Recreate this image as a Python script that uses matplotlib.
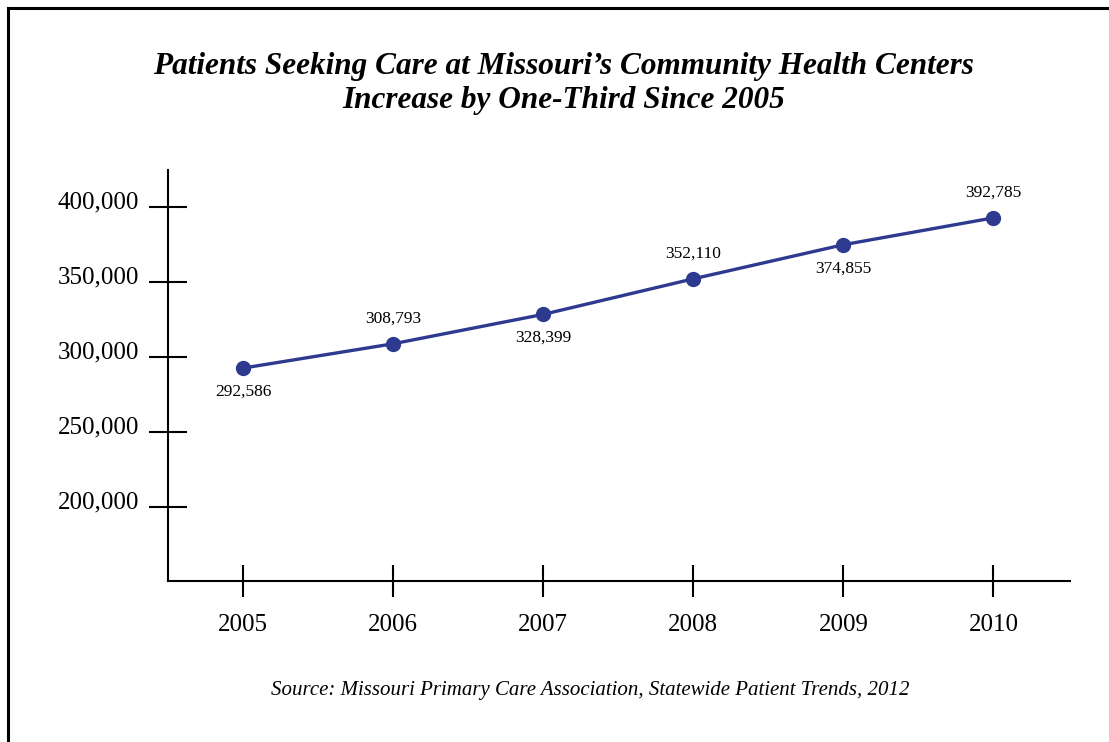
import matplotlib.pyplot as plt
from matplotlib.lines import Line2D
from matplotlib.ticker import FuncFormatter
from matplotlib.transforms import ScaledTranslation

# Patients served per year
years = [2005, 2006, 2007, 2008, 2009, 2010]
patients = [292586, 308793, 328399, 352110, 374855, 392785]
label_above = [False, True, False, True, False, True]
y_ticks = [200000, 250000, 300000, 350000, 400000]

plt.rcParams['font.family'] = ['Liberation Serif', 'DejaVu Serif']

fig = plt.figure(figsize=(11.09, 7.42), dpi=100)
ax = fig.add_axes([0.1515, 0.2170, 0.8133, 0.5539])

ax.plot(years, patients, color='#2e3a8f', linewidth=2.4, marker='o',
        markersize=10, zorder=3)

for x, y, up in zip(years, patients, label_above):
    ax.annotate(f'{y:,}', (x, y), xytext=(0, 18 if up else -17),
                textcoords='offset points', ha='center', va='center',
                fontsize=12.5)

ax.set_xlim(2004.5, 2010.51)
ax.set_ylim(150600, 424700)
ax.set_xticks(years)
ax.set_yticks(y_ticks)
ax.yaxis.set_major_formatter(FuncFormatter(lambda v, p: f'{int(v):,}'))

for side in ['top', 'right']:
    ax.spines[side].set_visible(False)
for side in ['left', 'bottom']:
    ax.spines[side].set_linewidth(1.5)

ax.tick_params(axis='y', direction='inout', length=28, width=1.5,
               labelsize=18, pad=7)
ax.tick_params(axis='x', direction='inout', length=23, width=1.5,
               labelsize=18, pad=12)

# y labels sit a little above their ticks
lift = ScaledTranslation(0, 7 / 100, fig.dpi_scale_trans)
for lbl in ax.get_yticklabels():
    lbl.set_transform(lbl.get_transform() + lift)

fig.text(0.508, 0.911, "Patients Seeking Care at Missouri\u2019s Community Health Centers",
         ha='center', va='center', fontsize=22.5, fontweight='bold', style='italic')
fig.text(0.508, 0.865, "Increase by One-Third Since 2005",
         ha='center', va='center', fontsize=22.5, fontweight='bold', style='italic')
fig.text(0.532, 0.070,
         "Source: Missouri Primary Care Association, Statewide Patient Trends, 2012",
         ha='center', va='center', fontsize=15, style='italic')

# Page border (top and left edges)
fig.add_artist(Line2D([0.0075, 1.0], [0.989, 0.989], color='black',
                      linewidth=2.2, transform=fig.transFigure))
fig.add_artist(Line2D([0.0075, 0.0075], [0.0, 0.989], color='black',
                      linewidth=2.2, transform=fig.transFigure))

fig.savefig('out.png', dpi=100)
